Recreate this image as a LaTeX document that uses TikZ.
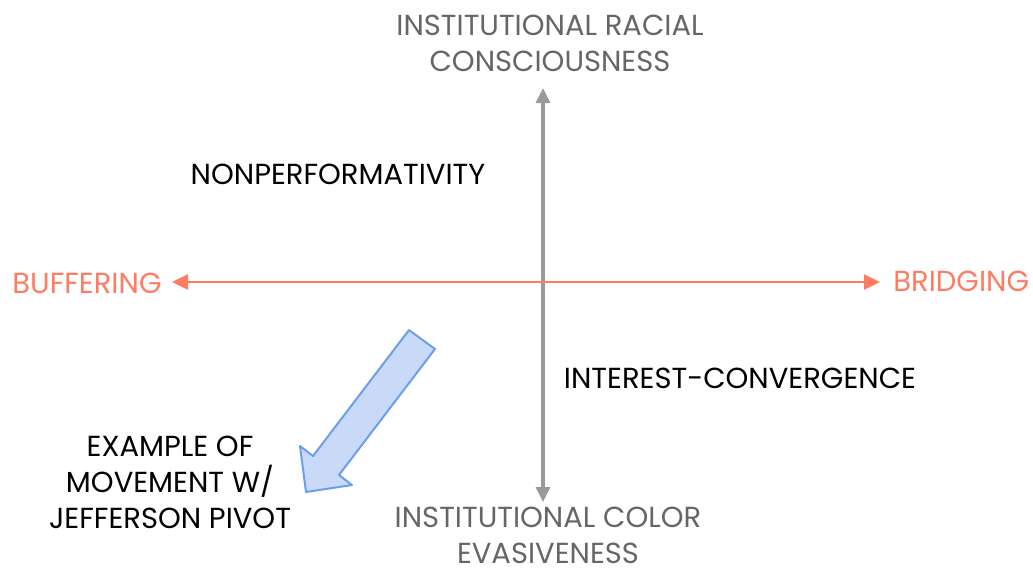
\documentclass[tikz,border=0pt]{standalone}
\usepackage{fontspec}
\setmainfont{Poppins}
\usepackage{tikz}
\usetikzlibrary{arrows.meta}
\usetikzlibrary{positioning}
\definecolor{axisgray}{HTML}{9A9A9A}
\definecolor{textgray}{HTML}{666666}
\definecolor{salmon}{HTML}{FF7B61}
\definecolor{pivotfill}{HTML}{C9DAF8}
\definecolor{pivotdraw}{HTML}{6D9EEB}

\begin{document}
\begin{tikzpicture}[x=0.5pt, y=-0.5pt, font=\fontsize{14.5}{18}\selectfont,
    axislabel/.style={align=center, text=textgray, inner sep=0pt},
    sidelabel/.style={text=salmon, inner sep=0pt},
    quadlabel/.style={text=black, align=center, inner sep=0pt}]
            \useasboundingbox (0,0) rectangle (1033,570);
            % axis end points
            \coordinate (top) at (543,88);
            \coordinate (bottom) at (543,502);
            \coordinate (left) at (172,282);
            \coordinate (right) at (880,282);
            \draw[axisgray, line width=1.6pt, {Triangle[length=7.5pt,width=7pt]}-{Triangle[length=7.5pt,width=7pt]}] (top) -- (bottom);
            \draw[salmon, line width=1.2pt, {Triangle[length=8pt,width=7.5pt]}-{Triangle[length=8pt,width=7.5pt]}] (left) -- (right);
            \node[axislabel] (racial) at (550,43) {INSTITUTIONAL RACIAL\\CONSCIOUSNESS};
            \node[axislabel] (evasive) at (548,535) {INSTITUTIONAL COLOR\\EVASIVENESS};
            \node[sidelabel, anchor=west] (buffering) at (12,283) {BUFFERING};
            \node[sidelabel, anchor=west] (bridging) at (893,281) {BRIDGING};
            \node[quadlabel] (nonperf) at (338,174) {NONPERFORMATIVITY};
            \node[quadlabel] (interest) at (740,378) {INTEREST-CONVERGENCE};
            \node[quadlabel] (example) at (170,482) {EXAMPLE OF\\MOVEMENT W/\\JEFFERSON PIVOT};
            % movement arrow
            \draw[pivotdraw, fill=pivotfill, line width=1pt, line join=round]
                (409,330) -- (435,349) -- (339,475) -- (352,485) -- (306,492) -- (300,446) -- (313,456) -- cycle;
        \end{tikzpicture}
\end{document}
